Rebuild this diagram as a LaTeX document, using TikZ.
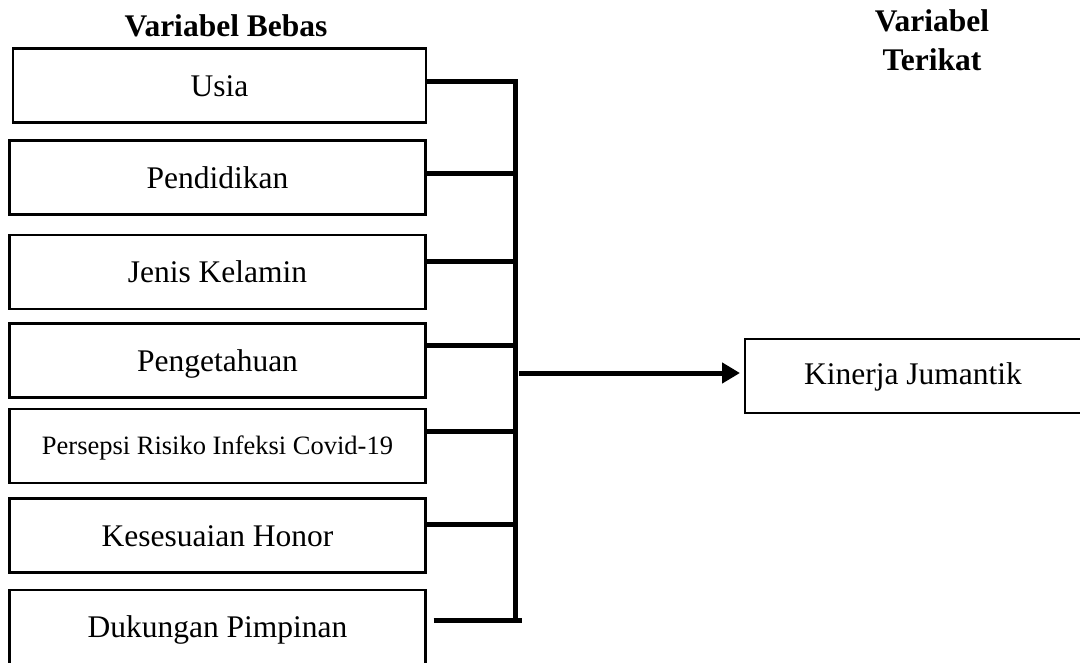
\documentclass[tikz,border=0pt]{standalone}
\usepackage{fontspec}
\setmainfont{Liberation Serif}
\usetikzlibrary{arrows.meta}
\begin{document}
\begin{tikzpicture}[x=1pt,y=-1pt,
  box/.style={draw, line width=2.2pt, rectangle, inner sep=0pt,
    minimum width=416pt, minimum height=74pt,
    font=\fontsize{31.5}{36}\selectfont, text height=21pt, text depth=0pt},
  smalltext/.style={font=\fontsize{26.5}{30}\selectfont, text height=17.5pt},
  conn/.style={line width=5pt, line cap=butt, line join=miter},
  head/.style={font=\fontsize{31.5}{39}\selectfont\bfseries, inner sep=0pt, anchor=base},
  arrowline/.style={conn, -{Triangle[length=18pt,width=20pt]}}]
\useasboundingbox (0,0) rectangle (1080,662);
\clip (0,0) rectangle (1080,662);

% headers
\node[head] (hb) at (226,36) {Variabel Bebas};
\node[head, align=center] (ht) at (932,70) {Variabel\\Terikat};

% independent variable boxes
\node[box, minimum width=413pt] (usia) at (219.5,85.5) {Usia};
\node[box] (pend) at (217.5,177.5) {Pendidikan};
\node[box] (jk) at (217.5,272) {Jenis Kelamin};
\node[box] (peng) at (217.5,360.5) {Pengetahuan};
\node[box, smalltext] (pers) at (217.5,446) {Persepsi Risiko Infeksi Covid-19};
\node[box] (hon) at (217.5,535.5) {Kesesuaian Honor};
\node[box] (duk) at (217.5,627) {Dukungan Pimpinan};

% dependent variable box
\node[draw, line width=2.2pt, rectangle, inner sep=0pt, minimum width=400pt,
  minimum height=74pt, anchor=west] (kbox) at (744,376) {};
\node[font=\fontsize{31.5}{36}\selectfont, text height=21pt, text depth=0pt, inner sep=0pt]
  (ktext) at (913,374) {Kinerja Jumantik};

% bus
\coordinate (bt) at (515,81);
\coordinate (bb) at (515,622);
\coordinate (b2) at (515,173);
\coordinate (b3) at (515,261);
\coordinate (b4) at (515,345);
\coordinate (b5) at (515,431);
\coordinate (b6) at (515,524);
\coordinate (b7) at (522,620);
\coordinate (a0) at (519,373);

\draw[conn] (usia.east |- bt) -- (bt) -- (bb);
\draw[conn] (pend.east |- b2) -- (b2);
\draw[conn] (jk.east |- b3) -- (b3);
\draw[conn] (peng.east |- b4) -- (b4);
\draw[conn] (pers.east |- b5) -- (b5);
\draw[conn] (hon.east |- b6) -- (b6);
\draw[conn] ([xshift=7pt]duk.east |- b7) -- (b7);
\draw[arrowline, shorten >=4pt] (a0) -- (kbox.west |- a0);
\end{tikzpicture}
\end{document}
